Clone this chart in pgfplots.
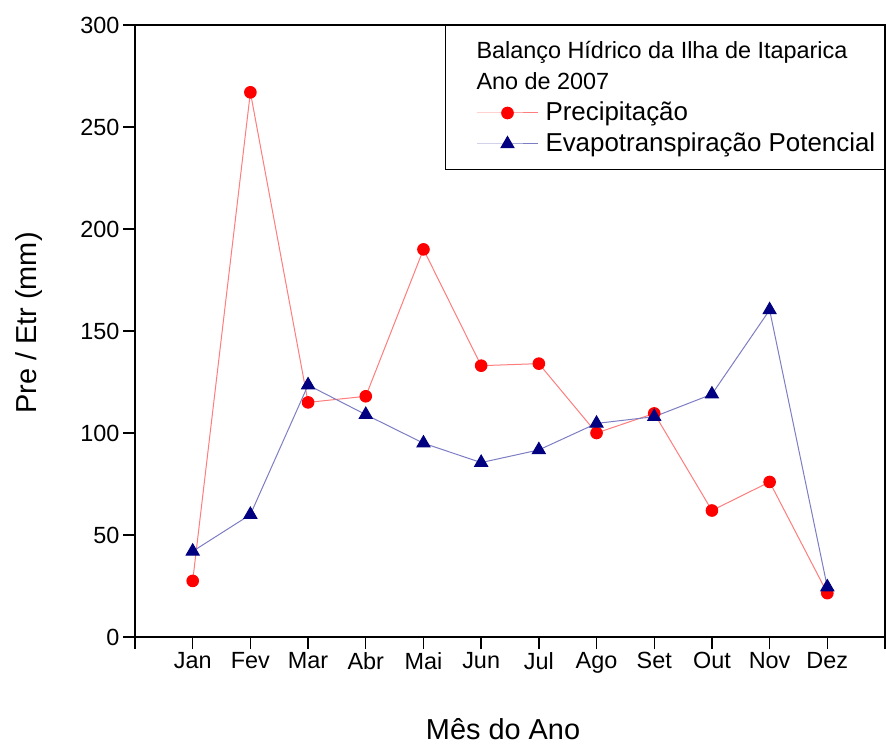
\documentclass[border=0pt]{standalone}
\usepackage{fontspec}
\setmainfont{Liberation Sans}
\usepackage{pgfplots}
\pgfplotsset{compat=1.18}
\definecolor{navyb}{RGB}{0,0,128}
\definecolor{redl}{RGB}{255,125,125}
\definecolor{navyl}{RGB}{125,125,195}
\pgfplotstableread{
m pre etp
1 27.5 42
2 267 60
3 115 123.5
4 118 109
5 190 95
6 133 85.5
7 134 91.7
8 100 104.7
9 109.6 108
10 62 119
11 76 160.3
12 21.5 24.5
}\datatab
\begin{document}
\begin{tikzpicture}
\begin{axis}[
  scale only axis, width=750bp, height=612bp,
  xmin=0, xmax=13, ymin=0, ymax=300,
  xtick={0,...,13},
  xticklabels={,Jan,Fev,Mar,Abr,Mai,Jun,Jul,Ago,Set,Out,Nov,Dez,},
  ytick={0,50,...,300},
  tick pos=left, tick align=outside,
  major tick length=12bp,
  axis line style={line width=1.4bp},
  every tick/.style={black, line width=1.4bp},
  tick label style={font=\fontsize{23.5}{28}\selectfont},
  /pgf/number format/assume math mode=true,
  xlabel={Mês do Ano}, ylabel={Pre / Etr (mm)},
  label style={font=\fontsize{29}{34}\selectfont},
  xlabel style={at={(axis description cs:0.4907,-0.168)}, anchor=base},
  ylabel style={at={(axis description cs:-0.141,0.513)}, anchor=center, rotate=0},
  legend cell align=left,
  legend style={at={(axis description cs:1,1)}, anchor=north east, draw=black, line width=1bp,
    font=\fontsize{26}{30}\selectfont, inner xsep=31bp, inner ysep=10bp,
    nodes={inner sep=1bp, text height=22bp, text depth=7bp},
    /tikz/every odd column/.append style={column sep=6bp}},
  legend image code/.code={\draw[mark repeat=2,mark phase=2,#1] plot coordinates {(0bp,0bp)(30.5bp,0bp)(61bp,0bp)};},
  clip=false,
]
\addlegendimage{empty legend}
\addlegendentry{\hspace{-69bp}\makebox[376bp][l]{\fontsize{23.5}{28}\selectfont Balanço Hídrico da Ilha de Itaparica}}
\addlegendimage{empty legend}
\addlegendentry{\hspace{-69bp}\makebox[300bp][l]{\fontsize{23.5}{28}\selectfont Ano de 2007}}
\addplot[color=redl, line width=1bp, mark=*, mark size=5.8bp, mark options={fill=red, draw=red}] table[x=m, y=pre] {\datatab};
\addlegendentry{Precipitação}
\addplot[color=navyl, line width=1bp, mark=triangle*, mark size=7.5bp, mark options={fill=navyb, draw=navyb}] table[x=m, y=etp] {\datatab};
\addlegendentry{\makebox[307bp][l]{Evapotranspiração Potencial}}
\end{axis}
\pgfresetboundingbox
\path[use as bounding box] (current axis.south west) ++(-135bp,-109bp) rectangle ++(886bp,746bp);
\end{tikzpicture}
\end{document}
